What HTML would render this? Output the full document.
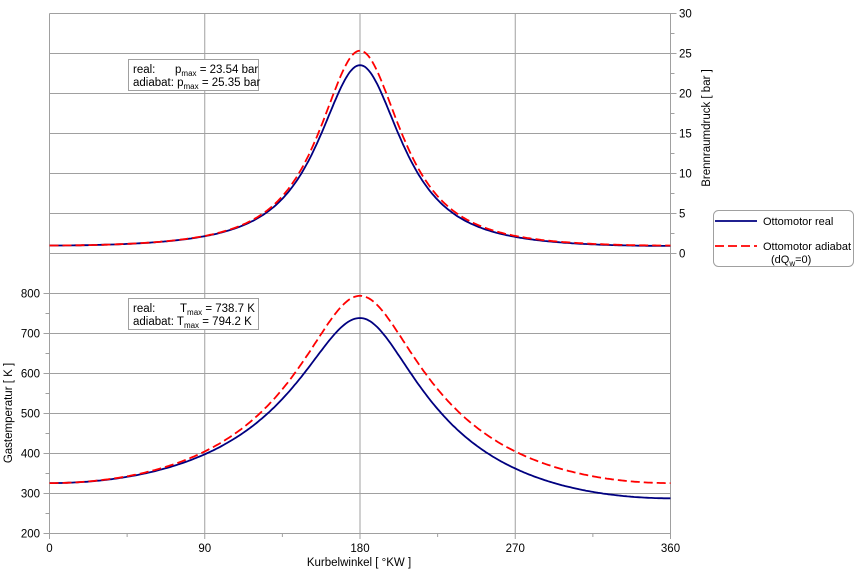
<!DOCTYPE html><html><head><meta charset="utf-8"><style>
body{margin:0;background:#fff;}
svg{display:block;font-family:"Liberation Sans",sans-serif;}
</style></head><body>
<svg id="s" width="857" height="569" viewBox="0 0 857 569" xmlns="http://www.w3.org/2000/svg">
<g stroke="#a0a0a0" stroke-width="1" fill="none" id="grid"></g>
<g font-size="11.5" fill="#000" id="lab"></g>
<text x="359" y="566" font-size="11.5" text-anchor="middle">Kurbelwinkel [ °KW ]</text>
<text transform="translate(12,413) rotate(-90)" font-size="11.5" text-anchor="middle">Gastemperatur [ K ]</text>
<text transform="translate(710,128) rotate(-90)" font-size="11.5" text-anchor="middle">Brennraumdruck [ bar ]</text>
<path id="pr" fill="none" stroke="#000080" stroke-width="1.8"/>
<path id="pa" fill="none" stroke="#ff0000" stroke-width="1.8" stroke-dasharray="9,4"/>
<path id="tr" fill="none" stroke="#000080" stroke-width="1.8"/>
<path id="ta" fill="none" stroke="#ff0000" stroke-width="1.8" stroke-dasharray="9,4"/>
<rect x="128.5" y="59.5" width="130" height="31" fill="#fff" stroke="#a0a0a0"/>
<text x="133" y="73" font-size="11.5">real:</text>
<text x="175" y="73" font-size="11.5">p<tspan font-size="8" dy="3">max</tspan><tspan dy="-3"> = 23.54 bar</tspan></text>
<text x="133" y="86" font-size="11.5">adiabat: p<tspan font-size="8" dy="3">max</tspan><tspan dy="-3"> = 25.35 bar</tspan></text>
<rect x="128.5" y="298.5" width="130" height="31" fill="#fff" stroke="#a0a0a0"/>
<text x="133" y="312" font-size="11.5">real:</text>
<text x="180" y="312" font-size="11.5">T<tspan font-size="8" dy="3">max</tspan><tspan dy="-3"> = 738.7 K</tspan></text>
<text x="133" y="325" font-size="11.5">adiabat: T<tspan font-size="8" dy="3">max</tspan><tspan dy="-3"> = 794.2 K</tspan></text>
<rect x="713.5" y="210.5" width="140" height="56" rx="5" fill="#fff" stroke="#a0a0a0"/>
<line x1="715" y1="221" x2="757" y2="221" stroke="#000080" stroke-width="1.8"/>
<text x="763" y="225" font-size="11">Ottomotor real</text>
<line x1="715" y1="246" x2="757" y2="246" stroke="#ff0000" stroke-width="1.8" stroke-dasharray="9,4"/>
<text x="763" y="250" font-size="11">Ottomotor adiabat</text>
<text x="771" y="263" font-size="11">(dQ<tspan font-size="8" dy="3">w</tspan><tspan dy="-3">=0)</tspan></text>
</svg>
<script>
var g=document.getElementById('grid'),L=document.getElementById('lab'),ns="http://www.w3.org/2000/svg";
function ln(x1,y1,x2,y2){var e=document.createElementNS(ns,'line');e.setAttribute('x1',x1);e.setAttribute('y1',y1);e.setAttribute('x2',x2);e.setAttribute('y2',y2);g.appendChild(e);}
function tx(x,y,s,a){var e=document.createElementNS(ns,'text');e.setAttribute('x',x);e.setAttribute('y',y);e.setAttribute('text-anchor',a);e.textContent=s;L.appendChild(e);}
var X0=49.5,X1=670.5;function X(t){return X0+(X1-X0)*t/360;}
function YP(p){return 253.5-p*8;}function YT(T){return 533.5-(T-200)*0.4;}
ln(X0,13.5,X0,533.5);ln(X1,13.5,X1,253.5);ln(X1,293.5,X1,533.5);
for(var i=0;i<=6;i++){var y=YP(i*5);ln(X0,y,X1+6,y);tx(679,y+4,String(i*5),'start');if(i<6)ln(X1,y-20,X1+4,y-20);}
for(var i=0;i<=6;i++){var y=YT(200+i*100);ln(X0-6,y,X1,y);tx(40,y+4,String(200+i*100),'end');if(i<6)ln(X0-4,y-20,X0,y-20);}
for(var k=0;k<=4;k++){var x=X(k*90);ln(x,13.5,x,539);tx(x,552,String(k*90),'middle');if(k<4)ln(X(k*90+45),533.5,X(k*90+45),537);}
var Vm=12.5;
function V(t){return 1+(Vm-1)/2*(1+Math.cos(t*Math.PI/180));}
var nA=Math.log(25.35)/Math.log(Vm),nR=Math.log(23.54)/Math.log(Vm),nE=Math.log(23.54/0.95)/Math.log(Vm);
var tA=Math.log(794.2/326)/Math.log(Vm),tR=Math.log(738.7/326)/Math.log(Vm),tE=Math.log(738.7/288)/Math.log(Vm);
var a=[],b=[],c=[],d=[];
for(var t=0;t<=360;t+=1){var v=V(t),r=Vm/v,q=1/v;
var pa=Math.pow(r,nA);var ta=326*Math.pow(r,tA);
var pr,tr;
if(t<=180){pr=Math.pow(r,nR);tr=326*Math.pow(r,tR);}
else{pr=23.54*Math.pow(q,nE);tr=738.7*Math.pow(q,tE);}
a.push(X(t).toFixed(1)+","+YP(pr).toFixed(1));
b.push(X(t).toFixed(1)+","+YP(pa).toFixed(1));
c.push(X(t).toFixed(1)+","+YT(tr).toFixed(1));
d.push(X(t).toFixed(1)+","+YT(ta).toFixed(1));}
document.getElementById('pr').setAttribute('d',"M"+a.join("L"));
document.getElementById('pa').setAttribute('d',"M"+b.join("L"));
document.getElementById('tr').setAttribute('d',"M"+c.join("L"));
document.getElementById('ta').setAttribute('d',"M"+d.join("L"));
</script>
</body></html>
